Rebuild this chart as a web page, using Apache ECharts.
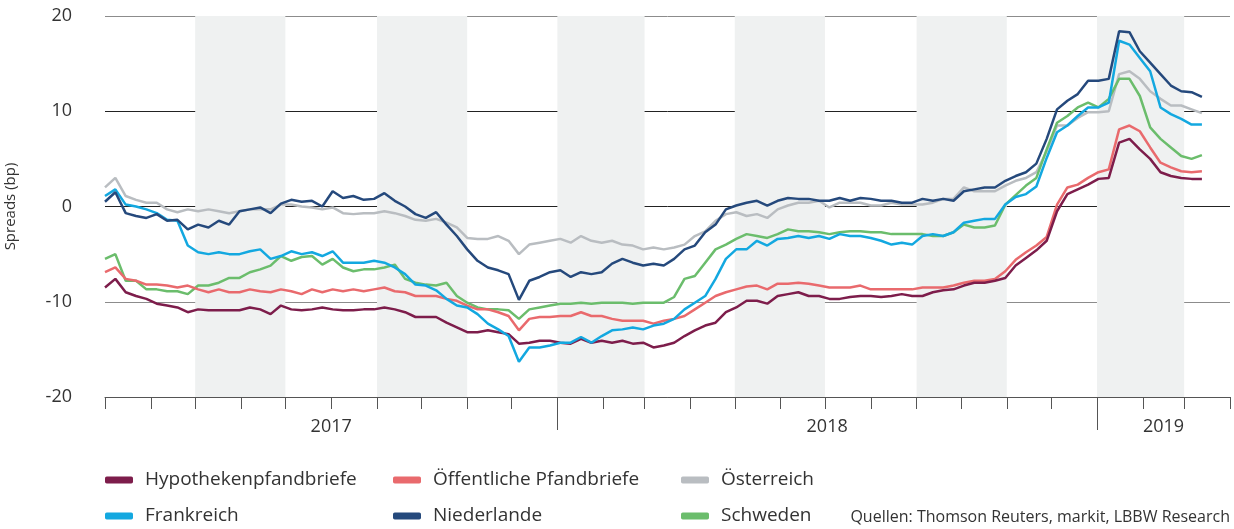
<!DOCTYPE html>
<html>
<head>
<meta charset="utf-8">
<title>Spreads</title>
<script src="https://cdn.jsdelivr.net/npm/echarts@6/dist/echarts.min.js"></script>
<style>
    html, body { margin: 0; padding: 0; background: #fff; }
    #chart { width: 1234px; height: 529px; }
</style>
</head>
<body>
<div id="chart"></div>
<script>
    // Wochenwerte ab 01.03.2017, Spreads in bp
    var hypo = [-8.5,-7.6,-9.0,-9.4,-9.7,-10.2,-10.4,-10.6,-11.1,-10.8,-10.9,-10.9,-10.9,-10.9,-10.6,-10.8,-11.3,-10.4,-10.8,-10.9,-10.8,-10.6,-10.8,-10.9,-10.9,-10.8,-10.8,-10.6,-10.8,-11.1,-11.6,-11.6,
        -11.6,-12.2,-12.7,-13.2,-13.2,-13.0,-13.2,-13.4,-14.4,-14.3,-14.1,-14.1,-14.3,-14.4,-13.9,-14.3,-14.1,-14.3,-14.1,-14.4,-14.3,-14.8,-14.6,-14.3,-13.6,-13.0,-12.5,-12.2,-11.1,-10.6,-9.9,
        -9.9,-10.2,-9.4,-9.2,-9.0,-9.4,-9.4,-9.7,-9.7,-9.5,-9.4,-9.4,-9.5,-9.4,-9.2,-9.4,-9.4,-9.0,-8.8,-8.7,-8.3,-8.0,-8.0,-7.8,-7.5,-6.2,-5.4,-4.6,
        -3.6,-0.5,1.3,1.8,2.3,2.9,3.0,6.7,7.1,6.0,5.0,3.6,3.2,3.0,2.9,2.9];
    var oeffentl = [-6.9,-6.4,-7.6,-7.8,-8.2,-8.2,-8.3,-8.5,-8.3,-8.7,-9.0,-8.7,-9.0,-9.0,-8.7,-8.9,-9.0,-8.7,-8.9,-9.2,-8.7,-9.0,-8.7,-8.9,-8.7,-8.9,-8.7,-8.5,-8.9,-9.0,-9.4,-9.4,
        -9.4,-9.7,-9.9,-10.4,-10.8,-10.8,-11.1,-11.5,-13.0,-11.8,-11.6,-11.6,-11.5,-11.5,-11.1,-11.5,-11.5,-11.8,-12.0,-12.0,-12.0,-12.3,-12.0,-11.8,-11.5,-10.8,-10.1,-9.4,-9.0,-8.7,-8.4,
        -8.3,-8.7,-8.1,-8.1,-8.0,-8.1,-8.3,-8.5,-8.5,-8.5,-8.3,-8.7,-8.7,-8.7,-8.7,-8.7,-8.5,-8.5,-8.5,-8.3,-8.0,-7.8,-7.8,-7.6,-6.8,-5.6,-4.8,-4.1,
        -3.2,0.2,2.0,2.3,3.0,3.6,3.9,8.1,8.5,7.9,6.2,4.6,4.1,3.7,3.6,3.7];
    var oesterreich = [2.0,3.0,1.1,0.7,0.4,0.4,-0.3,-0.6,-0.3,-0.5,-0.3,-0.5,-0.7,-0.5,-0.3,-0.3,-0.3,0.2,0.2,0.0,-0.1,-0.3,-0.1,-0.7,-0.8,-0.7,-0.7,-0.5,-0.7,-1.0,-1.4,-1.5,
        -1.3,-1.7,-2.2,-3.3,-3.4,-3.4,-3.1,-3.6,-5.0,-4.0,-3.8,-3.6,-3.4,-3.8,-3.1,-3.6,-3.8,-3.6,-4.0,-4.1,-4.5,-4.3,-4.5,-4.3,-4.0,-3.1,-2.6,-1.5,-0.8,-0.6,-1.0,
        -0.8,-1.2,-0.3,0.1,0.4,0.4,0.6,-0.1,0.4,0.4,0.4,0.1,0.1,0.4,0.2,0.2,0.2,0.4,0.8,0.8,2.0,1.6,1.6,1.6,2.2,2.7,3.0,3.6,
        5.8,8.5,8.5,9.3,9.9,9.9,10.0,13.9,14.2,13.4,12.1,11.3,10.6,10.6,10.2,9.8];
    var frankreich = [1.1,1.8,0.2,0.0,-0.3,-0.7,-1.4,-1.5,-4.1,-4.8,-5.0,-4.8,-5.0,-5.0,-4.7,-4.5,-5.5,-5.2,-4.7,-5.0,-4.8,-5.2,-4.7,-5.9,-5.9,-5.9,-5.7,-5.9,-6.4,-7.1,-8.2,-8.3,
        -8.8,-9.7,-10.4,-10.6,-11.3,-12.3,-12.9,-13.6,-16.3,-14.8,-14.8,-14.6,-14.3,-14.3,-13.7,-14.3,-13.6,-13.0,-12.9,-12.7,-12.9,-12.5,-12.3,-11.8,-10.8,-10.1,-9.4,-7.6,-5.5,-4.5,-4.5,
        -3.6,-4.1,-3.4,-3.3,-3.1,-3.3,-3.1,-3.4,-2.9,-3.1,-3.1,-3.3,-3.6,-4.0,-3.8,-4.0,-3.1,-2.9,-3.1,-2.7,-1.7,-1.5,-1.3,-1.3,0.2,1.0,1.3,2.1,
        5.1,7.8,8.5,9.5,10.4,10.4,10.9,17.4,17.0,15.6,14.2,10.4,9.7,9.2,8.6,8.6];
    var niederlande = [0.5,1.5,-0.7,-1.0,-1.2,-0.8,-1.5,-1.4,-2.4,-1.9,-2.2,-1.5,-1.9,-0.5,-0.3,-0.1,-0.7,0.3,0.7,0.5,0.6,0.0,1.6,0.9,1.1,0.7,0.8,1.4,0.6,0.0,-0.8,-1.2,
        -0.6,-1.9,-3.1,-4.5,-5.7,-6.4,-6.7,-7.1,-9.8,-7.8,-7.4,-6.9,-6.7,-7.4,-6.9,-7.1,-6.9,-6.0,-5.5,-5.9,-6.2,-6.0,-6.2,-5.5,-4.5,-4.1,-2.7,-1.9,-0.3,0.1,0.4,
        0.6,0.1,0.6,0.9,0.8,0.8,0.6,0.6,0.9,0.6,0.9,0.8,0.6,0.6,0.4,0.4,0.8,0.6,0.8,0.6,1.6,1.8,2.0,2.0,2.7,3.2,3.6,4.5,
        7.1,10.2,11.1,11.8,13.2,13.2,13.4,18.4,18.3,16.3,15.1,13.9,12.7,12.1,12.0,11.5];
    var schweden = [-5.5,-5.0,-7.8,-7.8,-8.7,-8.7,-8.9,-8.9,-9.2,-8.3,-8.3,-8.0,-7.5,-7.5,-6.9,-6.6,-6.2,-5.2,-5.7,-5.3,-5.2,-6.1,-5.5,-6.4,-6.8,-6.6,-6.6,-6.4,-6.1,-7.6,-8.0,-8.2,
        -8.3,-8.0,-9.4,-10.1,-10.6,-10.8,-10.8,-10.9,-11.8,-10.8,-10.6,-10.4,-10.2,-10.2,-10.1,-10.2,-10.1,-10.1,-10.1,-10.2,-10.1,-10.1,-10.1,-9.5,-7.6,-7.3,-5.9,-4.5,-4.0,-3.4,-2.9,
        -3.1,-3.3,-2.9,-2.4,-2.6,-2.6,-2.7,-2.9,-2.7,-2.6,-2.6,-2.7,-2.7,-2.9,-2.9,-2.9,-2.9,-3.1,-3.1,-2.7,-1.9,-2.2,-2.2,-2.0,0.2,1.2,2.2,3.0,
        6.0,8.8,9.5,10.4,10.9,10.4,11.3,13.4,13.4,11.6,8.3,7.1,6.2,5.3,5.0,5.4];

    var yTicks = [-20, -10, 0, 10, 20];
    var yearLabels = ['2017', '2018', '2019'];
    var bands = [['2017-05-01', '2017-07-01'], ['2017-09-01', '2017-11-01'], ['2018-01-01', '2018-03-01'],
                 ['2018-05-01', '2018-07-01'], ['2018-09-01', '2018-11-01'], ['2019-01-01', '2019-03-01']];

    // x-Achse in Tagen ab 01.03.2017
    var t0 = Date.UTC(2017, 2, 1);
    function day(y, m, dd) {
        return Math.round((Date.UTC(y, m, dd) - t0) / 86400000);
    }
    function d(s) {
        var p = s.split('-');
        return day(+p[0], +p[1] - 1, +p[2]);
    }

    var axisMin = 0;
    var axisMax = d('2019-04-01');

    function pairs(arr) {
        var out = [];
        for (var i = 0; i < arr.length; i++) out.push([7 * i, arr[i]]);
        return out;
    }

    var monthTicks = [];
    for (var m = 0; m <= 25; m++) monthTicks.push(day(2017, 2 + m, 1));
    var yearTicks = [d('2018-01-01'), d('2019-01-01')];
    var yearMids = [(axisMin + yearTicks[0]) / 2, (yearTicks[0] + yearTicks[1]) / 2, (yearTicks[1] + axisMax) / 2];

    var font = '"Open Sans", Roboto, sans-serif';

    var myChart = echarts.init(document.getElementById('chart'));
    var option = {
        animation: false,
        grid: { left: 105, right: 4, top: 16, bottom: 132, outerBoundsMode: 'none' },
        xAxis: [
            {
                type: 'value', min: axisMin, max: axisMax, z: 1, position: 'bottom',
                axisLine: { show: true, onZero: false, lineStyle: { color: '#555', width: 1 } },
                axisTick: { show: true, customValues: monthTicks, length: 12, lineStyle: { color: '#555', width: 1 } },
                axisLabel: { customValues: monthTicks, formatter: function () { return ''; } },
                splitLine: { show: false }
            },
            {
                type: 'value', min: axisMin, max: axisMax, position: 'bottom', z: 1,
                axisLine: { show: false, onZero: false },
                axisTick: { show: true, customValues: yearTicks, length: 33, lineStyle: { color: '#555', width: 1 } },
                axisLabel: {
                    customValues: yearMids, margin: 21, fontSize: 18, color: '#333', fontFamily: font,
                    formatter: function (v) {
                        return yearLabels[yearMids.indexOf(v)];
                    }
                },
                splitLine: { show: false }
            }
        ],
        yAxis: {
            type: 'value', min: yTicks[0], max: yTicks[4], interval: 10, z: 1,
            name: 'Spreads (bp)', nameLocation: 'middle', nameGap: 87,
            nameTextStyle: { fontSize: 15, color: '#333', fontFamily: font },
            axisLine: { show: false, onZero: false },
            axisTick: { show: false },
            axisLabel: { margin: 33, fontSize: 18, color: '#333', fontFamily: font },
            splitLine: { lineStyle: { color: ['#555', '#8c8c8c', '#222', '#222', '#8c8c8c'], width: 1 } }
        },
        legend: [
            { data: ['Hypothekenpfandbriefe', 'Frankreich'], left: 105 },
            { data: ['Öffentliche Pfandbriefe', 'Niederlande'], left: 393 },
            { data: ['Österreich', 'Schweden'], left: 681 }
        ].map(function (l) {
            l.top = 470;
            l.orient = 'vertical';
            l.itemGap = 16;
            l.itemWidth = 28;
            l.itemHeight = 7;
            l.icon = 'roundRect';
            l.padding = 0;
            l.textStyle = { fontSize: 19, color: '#333', fontFamily: font, lineHeight: 20, padding: [0, 0, 0, 7] };
            return l;
        }),
        graphic: [{
            type: 'text', right: 4, top: 509,
            style: { text: 'Quellen: Thomson Reuters, markit, LBBW Research', font: '16px ' + font, fill: '#333' }
        }],
        series: [
            {
                type: 'line', data: [], z: 0, silent: true,
                markArea: {
                    silent: true,
                    itemStyle: { color: '#eff1f1' },
                    data: bands.map(function (b) { return [{ xAxis: d(b[0]) }, { xAxis: d(b[1]) }]; })
                }
            },
            { name: 'Österreich', data: pairs(oesterreich), color: '#b9bdc1' },
            { name: 'Schweden', data: pairs(schweden), color: '#6bbd6c' },
            { name: 'Öffentliche Pfandbriefe', data: pairs(oeffentl), color: '#e96a6d' },
            { name: 'Hypothekenpfandbriefe', data: pairs(hypo), color: '#7d1d4b' },
            { name: 'Frankreich', data: pairs(frankreich), color: '#13a8e0' },
            { name: 'Niederlande', data: pairs(niederlande), color: '#25497c' }
        ].map(function (s) {
            if (s.name) {
                s.type = 'line';
                s.showSymbol = false;
                s.z = 2;
                s.lineStyle = { width: 2.5 };
            }
            return s;
        })
    };
    myChart.setOption(option);
</script>
</body>
</html>
